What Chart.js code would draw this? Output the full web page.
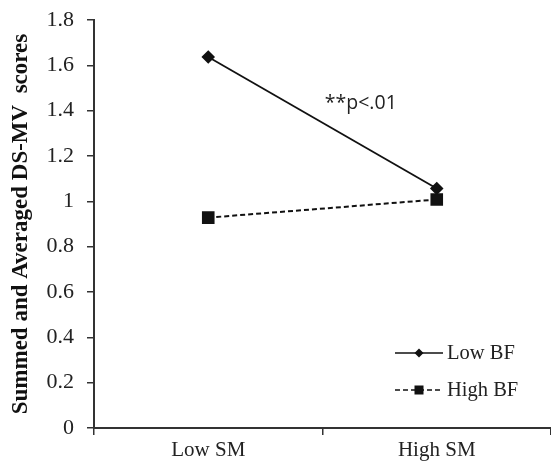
<!DOCTYPE html>
<html>
<head>
<meta charset="utf-8">
<script src="https://cdn.jsdelivr.net/npm/chart.js@4.4.1/dist/chart.umd.min.js"></script>
<style>
html,body{margin:0;padding:0;background:#fff;overflow:hidden;}
#wrap{width:551px;height:466px;position:relative;}
canvas{display:block;}
</style>
</head>
<body>
<div id="wrap"><canvas id="c" width="551" height="466"></canvas></div>
<script>
const categories = ["Low SM", "High SM"];
const seriesNames = ["Low BF", "High BF"];
const lowBF = [1.637, 1.057];
const highBF = [0.928, 1.008];
const yTicks = [0, 0.2, 0.4, 0.6, 0.8, 1, 1.2, 1.4, 1.6, 1.8];
const yTitle = "Summed and Averaged DS-MV  scores";
const note = "**p<.01";
const noteAt = [0.51, 1.434];

const serif = "'Liberation Serif', 'Times New Roman', serif";

const annotate = {
  id: 'annotate',
  afterDatasetsDraw(chart) {
    const ctx = chart.ctx, xs = chart.scales.x, ys = chart.scales.y;
    const x0 = xs.getPixelForValue(0), x1 = xs.getPixelForValue(1);
    const px = x0 + (x1 - x0) * noteAt[0];
    const py = ys.getPixelForValue(noteAt[1]);
    ctx.save();
    ctx.fillStyle = '#222';
    ctx.font = "19.5px 'Open Sans', sans-serif";
    ctx.textAlign = 'center';
    ctx.textBaseline = 'middle';
    ctx.fillText(note, px + 36, py);
    // legend
    const ca = chart.chartArea;
    const items = chart.data.datasets;
    const lx0 = ca.right - 156, lx1 = ca.right - 108;
    const ly = [ca.bottom - 75, ca.bottom - 38];
    items.forEach((ds, i) => {
      ctx.strokeStyle = '#111';
      ctx.lineWidth = 1.6;
      ctx.setLineDash(ds.borderDash || []);
      ctx.beginPath();
      ctx.moveTo(lx0, ly[i]);
      ctx.lineTo(lx1, ly[i]);
      ctx.stroke();
      ctx.setLineDash([]);
      ctx.fillStyle = '#111';
      const cx = (lx0 + lx1) / 2;
      if (ds.pointStyle === 'rect') {
        ctx.fillRect(cx - 4.5, ly[i] - 4.5, 9, 9);
      } else {
        ctx.beginPath();
        ctx.moveTo(cx, ly[i] - 4.5); ctx.lineTo(cx + 4.5, ly[i]);
        ctx.lineTo(cx, ly[i] + 4.5); ctx.lineTo(cx - 4.5, ly[i]);
        ctx.closePath(); ctx.fill();
      }
      ctx.fillStyle = '#222';
      ctx.font = "20.5px " + serif;
      ctx.textAlign = 'left';
      ctx.fillText(ds.label, lx1 + 4, ly[i] + 1);
    });
    ctx.restore();
  }
};

new Chart(document.getElementById('c'), {
  type: 'line',
  data: {
    labels: categories,
    datasets: [
      {
        label: seriesNames[0], data: lowBF,
        borderColor: '#111', backgroundColor: '#111', borderWidth: 1.8,
        pointStyle: 'rectRot', pointRadius: 5.5, pointHoverRadius: 5.5,
        fill: false, tension: 0
      },
      {
        label: seriesNames[1], data: highBF,
        borderColor: '#111', backgroundColor: '#111', borderWidth: 2,
        borderDash: [5, 3],
        pointStyle: 'rect', pointRadius: 7.5, pointHoverRadius: 7.5,
        fill: false, tension: 0
      }
    ]
  },
  options: {
    responsive: false,
    animation: false,
    events: [],
    layout: { autoPadding: false, padding: { top: 20, right: 0, left: 0, bottom: 0 } },
    plugins: { legend: { display: false }, tooltip: { enabled: false } },
    scales: {
      x: {
        type: 'category',
        offset: true,
        grid: { offset: true, drawOnChartArea: false, drawTicks: true, tickLength: 7, color: '#333', lineWidth: 1.5 },
        border: { display: true, color: '#333', width: 2 },
        ticks: { color: '#222', font: { family: serif, size: 21 }, padding: 3, maxRotation: 0 },
        afterFit(s) { s.height = 38; s.paddingLeft = 0; s.paddingRight = 0; }
      },
      y: {
        min: 0, max: 1.8,
        afterBuildTicks(s) { s.ticks = yTicks.map(v => ({ value: v })); },
        grid: { drawOnChartArea: false, drawTicks: true, tickLength: 7, color: '#333', lineWidth: 1.5 },
        border: { display: true, color: '#333', width: 2 },
        ticks: { color: '#222', font: { family: serif, size: 22 }, padding: 13,
          callback: v => String(Math.round(v * 10) / 10) },
        title: { display: true, text: yTitle, color: '#111',
          font: { family: serif, size: 23, weight: 'bold' }, padding: { top: 7, bottom: 0 } },
        afterFit(s) { s.width = 94; s.paddingTop = 0; s.paddingBottom = 0; }
      }
    }
  },
  plugins: [annotate]
});
</script>
</body>
</html>
